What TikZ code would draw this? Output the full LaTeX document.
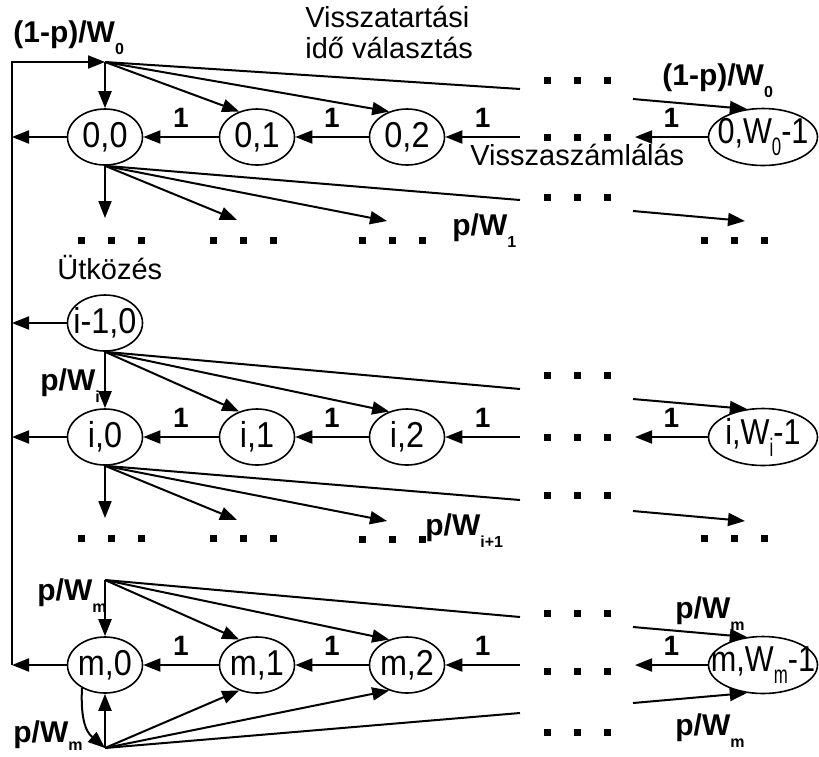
\documentclass[tikz,border=0pt]{standalone}
\usepackage{fontspec}
\setmainfont{Liberation Sans}
\usepackage{graphicx}
\usepackage{tikz}
\usetikzlibrary{calc,arrows.meta,shapes.geometric}
\definecolor{ink}{HTML}{000000}
\newcommand{\Dots}[2]{%
  \foreach \k in {-1,0,1}
    \fill ({#1+30*\k-3.5},{#2-3.5}) rectangle ++(7,7);
}
\newcommand{\sublab}[1]{\raisebox{-6pt}{\fontsize{8}{8}\selectfont #1}}
\newcommand{\subnode}[1]{\raisebox{-6pt}{\scalebox{0.55}[0.7]{#1}}}
\newcommand{\stxt}[1]{\makebox[0pt]{\scalebox{0.9}[1]{#1}}}
\newcommand{\wtxt}[1]{\makebox[0pt]{\scalebox{0.85}[1]{#1}}}
\newcommand{\Chain}[2]{%
  \coordinate (#1p) at (520,#2);
  \coordinate (#1q) at (635,#2);
  \coordinate (#1l) at (12,#2);
  \draw[arr] (#11) -- node[one] {1} (#10);
  \draw[arr] (#12) -- node[one] {1} (#11);
  \draw[arr] (#1p) -- node[one] {1} (#12);
  \draw[arr] (#1W) -- node[one] {1} (#1q);
  \draw[arr] (#10) -- (#1l);
}
\newcommand{\FanRow}[5]{%
  \pgfmathtruncatemacro{\fanang}{180+55*#4}
  \pgfmathtruncatemacro{\fanangw}{180+60*#4}
  \coordinate (#5d) at (520,{#3+48*#4});
  \coordinate (#5e) at (633,{#3+38*#4});
  \draw[arr] (#1) -- (#20);
  \draw[arr] (#1) -- (#21.\fanang);
  \draw[arr] (#1) -- (#22.\fanang);
  \draw[ln] (#1) -- (#5d);
  \draw[arr] (#5e) -- (#2W.\fanangw);
}
\newcommand{\FanDown}[2]{%
  \coordinate (#1a) at (105,{#2+81});
  \coordinate (#1b) at (237,{#2+83});
  \coordinate (#1c) at (387,{#2+84});
  \coordinate (#1d) at (520,{#2+63});
  \coordinate (#1e) at (633,{#2+74});
  \coordinate (#1f) at (745,{#2+84});
  \draw[arr] (#1.south) -- (#1a);
  \draw[arr] (#1.south) -- (#1b);
  \draw[arr] (#1.south) -- (#1c);
  \draw[ln] (#1.south) -- (#1d);
  \draw[arr] (#1e) -- (#1f);
}

\begin{document}
\begin{tikzpicture}[x=0.5pt,y=-0.5pt,color=ink,
  st/.style={ellipse,draw,line width=0.8pt,inner sep=0pt,minimum width=37.5pt,
    minimum height=28pt,font=\fontsize{18}{18}\selectfont},
  wst/.style={st,minimum width=54.5pt,minimum height=28.5pt},
  ln/.style={line width=1pt},
  arr/.style={ln,-{Triangle[length=8.5pt,width=6.5pt]}},
  lab/.style={font=\bfseries\fontsize{15}{15}\selectfont,inner sep=0pt,anchor=base west},
  one/.style={font=\bfseries\fontsize{14}{14}\selectfont,inner sep=0pt,above=4.5pt},
  txt/.style={font=\fontsize{14.5}{15.5}\selectfont,inner sep=0pt,anchor=base west,align=left}]
  \useasboundingbox (0,0) rectangle (819,756);

  \coordinate (s0) at (105,62);
  \coordinate (sm) at (105,580);
  \coordinate (sb) at (105,748);
  \coordinate (lt) at (12,62);

  \node[st] (z0) at (105,137) {\stxt{0,0}};
  \node[st] (z1) at (257,137) {\stxt{0,1}};
  \node[st] (z2) at (407,137) {\stxt{0,2}};
  \node[wst] (zW) at (763,137) {\wtxt{0,W\subnode{0}-1}};

  \node[st] (c0) at (105,323) {\stxt{i-1,0}};

  \node[st] (i0) at (105,437) {\stxt{i,0}};
  \node[st] (i1) at (257,437) {\stxt{i,1}};
  \node[st] (i2) at (407,437) {\stxt{i,2}};
  \node[wst] (iW) at (763,437) {\wtxt{i,W\subnode{i}-1}};

  \node[st] (m0) at (105,665) {\stxt{m,0}};
  \node[st] (m1) at (257,665) {\stxt{m,1}};
  \node[st] (m2) at (407,665) {\stxt{m,2}};
  \node[wst] (mW) at (763,665) {\wtxt{m,W\subnode{m}-1}};

  \Chain{z}{137}
  \Chain{i}{437}
  \Chain{m}{665}
  \coordinate (cl) at (12,323);
  \draw[arr] (c0) -- (cl);
  \draw[arr] (ml) -- (lt) -- (s0);

  \FanRow{s0}{z}{137}{-1}{t0}
  \FanRow{c0.south}{i}{437}{-1}{ti}
  \FanRow{sm}{m}{665}{-1}{tm}
  \FanRow{sb}{m}{665}{1}{bm}
  \FanDown{z0}{137}
  \FanDown{i0}{437}
  \draw[arr] (m0.225) .. controls (80,728) and (90,735) .. (sb);

  \Dots{577}{80} \Dots{577}{137} \Dots{577}{197}
  \Dots{111}{240} \Dots{243}{240} \Dots{392}{240} \Dots{734}{240}
  \Dots{577}{375} \Dots{577}{437} \Dots{577}{495}
  \Dots{111}{538} \Dots{243}{538} \Dots{392}{539} \Dots{734}{538}
  \Dots{577}{613} \Dots{577}{671} \Dots{577}{732}

  \node[lab] (q0) at (13,42) {(1-p)/W\sublab{0}};
  \node[lab] (q1) at (662,85) {(1-p)/W\sublab{0}};
  \node[txt] (t1) at (305,58) {Visszatartási\\idő választás};
  \node[txt] (t2) at (470,165) {Visszaszámlálás};
  \node[txt] (t3) at (57,279) {Ütközés};
  \node[lab] (q2) at (452,235) {p/W\sublab{1}};
  \node[lab] (q3) at (40,390) {p/W\sublab{i}};
  \node[lab] (q4) at (425,535) {p/W\sublab{i+1}};
  \node[lab] (q5) at (37,600) {p/W\sublab{m}};
  \node[lab] (q6) at (675,618) {p/W\sublab{m}};
  \node[lab] (q7) at (675,735) {p/W\sublab{m}};
  \node[lab] (q8) at (13,742) {p/W\raisebox{-4pt}{\fontsize{8}{8}\selectfont m}};
\end{tikzpicture}
\end{document}
